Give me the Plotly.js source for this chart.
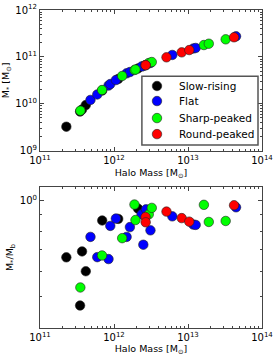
<!DOCTYPE html>
<html>
<head>
<meta charset="utf-8">
<script src="https://cdn.plot.ly/plotly-3.0.1.min.js"></script>
<style>html,body{margin:0;padding:0;background:#fff;}#chart{width:274px;height:356px;}</style>
</head>
<body>
<div id="chart"></div>
<script>
// Slow-rising
const slowMh    = [2.27e11, 3.70e11, 4.16e11, 3.48e11, 6.93e11, 1.14e12, 2.11e12];
const slowMstar = [3.25e9, 7.55e9, 9.4e9, 6.85e9, 1.92e10, 3.38e10, 5.66e10];
const slowRatio = [0.664, 0.693, 0.601, 0.470, 0.865, 0.875, 0.942];
// Flat
const flatMh    = [4.81e11, 5.94e11, 8.43e11, 8.91e11, 1.06e12, 1.48e12, 1.64e12, 2.49e12, 2.36e12, 2.71e12, 3.11e12, 6.14e12, 1.18e13, 1.27e13, 4.46e13];
const flatMstar = [1.21e10, 1.58e10, 2.45e10, 2.64e10, 3.21e10, 4.47e10, 4.76e10, 6.40e10, 6.24e10, 6.72e10, 7.41e10, 1.10e11, 1.51e11, 1.55e11, 2.75e11];
const flatRatio = [0.769, 0.665, 0.656, 0.832, 0.877, 0.769, 0.825, 0.727, 0.904, 0.937, 0.806, 0.891, 0.840, 0.838, 0.951];
// Sharp-peaked
const sharpMh    = [3.51e11, 6.89e11, 1.29e12, 1.89e12, 1.95e12, 2.95e12, 3.24e12, 1.64e13, 1.91e13, 3.23e13];
const sharpMstar = [7.13e9, 1.97e10, 3.92e10, 5.26e10, 5.38e10, 7.41e10, 7.78e10, 1.79e11, 1.91e11, 2.37e11];
const sharpRatio = [0.535, 0.673, 0.762, 0.970, 0.868, 0.904, 0.947, 0.968, 0.856, 0.862];
// Round-peaked
const roundMh    = [2.67e12, 2.68e12, 5.12e12, 8.22e12, 1.04e13, 4.19e13];
const roundMstar = [6.71e10, 6.65e10, 9.80e10, 1.25e11, 1.40e11, 2.62e11];
const roundRatio = [0.887, 0.854, 0.922, 0.880, 0.858, 0.965];

const groupNames = ['Slow-rising', 'Flat', 'Sharp-peaked', 'Round-peaked'];
const groupColors = ['#000000', '#0000ff', '#00ff00', '#ff0000'];
const groups = [
  {mh: slowMh, ms: slowMstar, r: slowRatio},
  {mh: flatMh, ms: flatMstar, r: flatRatio},
  {mh: sharpMh, ms: sharpMstar, r: sharpRatio},
  {mh: roundMh, ms: roundMstar, r: roundRatio}
];

const xTickVals = [1e11, 1e12, 1e13, 1e14];
const xTickText = ['10<sup>11</sup>', '10<sup>12</sup>', '10<sup>13</sup>', '10<sup>14</sup>'];
const yTopTickVals = [1e9, 1e10, 1e11, 1e12];
const yTopTickText = ['10<sup>9</sup>', '10<sup>10</sup>', '10<sup>11</sup>', '10<sup>12</sup>'];
const yBotTickVals = [1];
const yBotTickText = ['10<sup>0</sup>'];

function minorLog(lo, hi) {
  const v = [];
  for (let e = lo; e < hi; e++) for (let m = 2; m <= 9; m++) v.push(m * Math.pow(10, e));
  return v;
}

const MARKER_SIZE = 9.5;
const EDGE = '#222';
const traces = [];
groups.forEach((g, i) => {
  const mk = {color: groupColors[i], size: MARKER_SIZE, line: {color: EDGE, width: 0.6}};
  traces.push({x: g.mh, y: g.ms, xaxis: 'x', yaxis: 'y', mode: 'markers', type: 'scatter',
    name: groupNames[i], marker: mk, showlegend: false});
  traces.push({x: g.mh, y: g.r, xaxis: 'x2', yaxis: 'y2', mode: 'markers', type: 'scatter',
    name: groupNames[i], marker: mk, showlegend: false});
});

// Legend drawn as a boxed key inside the top panel (axis-domain fractions)
const legBox = {x0: 0.459, x1: 0.982, y0: 0.04, y1: 0.53};
const legRowY = [0.46, 0.353, 0.232, 0.118];
const legMarkX = 0.527;
const legTextX = 0.615;
const shapes = [{type: 'rect', xref: 'x domain', yref: 'y domain', x0: legBox.x0, x1: legBox.x1, y0: legBox.y0, y1: legBox.y1,
  fillcolor: '#fff', line: {color: '#555', width: 1.5}, layer: 'above'}];
const annotations = [];
groupNames.forEach((n, i) => {
  shapes.push({type: 'circle', xref: 'x domain', yref: 'y domain', xsizemode: 'pixel', ysizemode: 'pixel',
    xanchor: legMarkX, yanchor: legRowY[i], x0: -MARKER_SIZE / 2, x1: MARKER_SIZE / 2, y0: -MARKER_SIZE / 2, y1: MARKER_SIZE / 2,
    fillcolor: groupColors[i], line: {color: EDGE, width: 0.6}, layer: 'above'});
  annotations.push({xref: 'x domain', yref: 'y domain', x: legTextX, y: legRowY[i], xanchor: 'left', yanchor: 'middle',
    text: n, showarrow: false, font: {family: 'DejaVu Sans', size: 10.5, color: '#000'}});
});

const tickFont = {family: 'DejaVu Sans', size: 10, color: '#000'};
const titleFont = {family: 'DejaVu Sans', size: 9.5, color: '#000'};
const axBase = {
  type: 'log', showgrid: false, zeroline: false, showline: true, linecolor: '#444', linewidth: 1,
  mirror: 'ticks', ticks: 'inside', ticklen: 4, tickcolor: '#444', tickfont: tickFont, tickmode: 'array'
};

const layout = {
  width: 274, height: 356,
  margin: {l: 40, r: 12, t: 10, b: 28},
  paper_bgcolor: '#fff', plot_bgcolor: '#fff',
  font: {family: 'DejaVu Sans'},
  showlegend: false,
  shapes: shapes,
  annotations: annotations,
  xaxis: Object.assign({}, axBase, {anchor: 'y', range: [11, 14], tickvals: xTickVals, ticktext: xTickText,
    minor: {tickvals: minorLog(11, 14), ticks: 'inside', ticklen: 2, tickcolor: '#444'},
    title: {text: 'Halo Mass [M<sub>⊙</sub>]', font: titleFont, standoff: 4}}),
  yaxis: Object.assign({}, axBase, {domain: [0.5575, 1], anchor: 'x', range: [9, 12], tickvals: yTopTickVals, ticktext: yTopTickText,
    minor: {tickvals: minorLog(9, 12), ticks: 'inside', ticklen: 2, tickcolor: '#444'},
    title: {text: 'M<sub>*</sub> [M<sub>⊙</sub>]', font: titleFont, standoff: 4}}),
  xaxis2: Object.assign({}, axBase, {anchor: 'y2', range: [11, 14], tickvals: xTickVals, ticktext: xTickText,
    minor: {tickvals: minorLog(11, 14), ticks: 'inside', ticklen: 2, tickcolor: '#444'},
    title: {text: 'Halo Mass [M<sub>⊙</sub>]', font: titleFont, standoff: 2}}),
  yaxis2: Object.assign({}, axBase, {domain: [0, 0.4434], anchor: 'x2', range: [Math.log10(0.4), Math.log10(1.1)],
    tickvals: yBotTickVals, ticktext: yBotTickText,
    minor: {tickvals: [0.5, 0.6, 0.7, 0.8, 0.9], ticks: 'inside', ticklen: 2, tickcolor: '#444'},
    title: {text: 'M<sub>*</sub>/M<sub>b</sub>', font: titleFont, standoff: 4}})
};

Plotly.newPlot('chart', traces, layout, {staticPlot: true, displayModeBar: false});
</script>
</body>
</html>
